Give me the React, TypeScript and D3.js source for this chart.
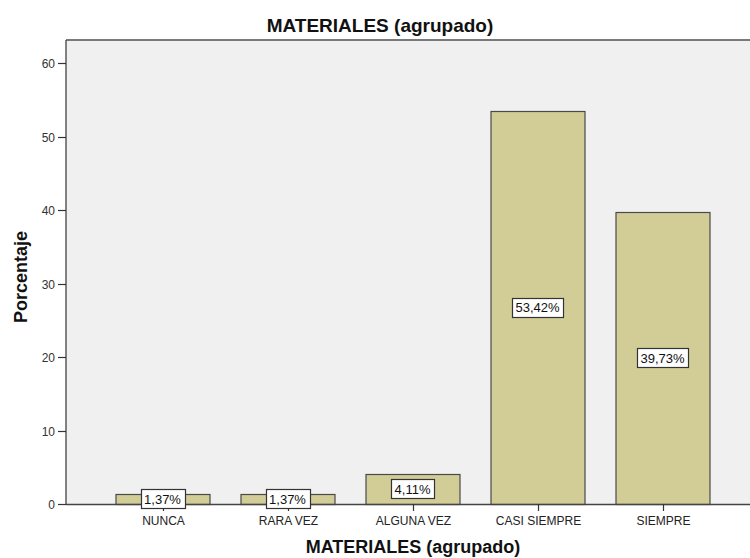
import React, { useEffect, useRef } from "react";
import * as d3 from "d3";

const categories = ["NUNCA", "RARA VEZ", "ALGUNA VEZ", "CASI SIEMPRE", "SIEMPRE"];
const values = [1.37, 1.37, 4.11, 53.42, 39.73];
const valueLabels = ["1,37%", "1,37%", "4,11%", "53,42%", "39,73%"];
const yTicks = [0, 10, 20, 30, 40, 50, 60];
const title = "MATERIALES (agrupado)";
const xTitle = "MATERIALES (agrupado)";
const yTitle = "Porcentaje";

const W = 750;
const H = 558;
const FONT = "'Liberation Sans', Arial, Helvetica, sans-serif";

export default function App() {
  const ref = useRef<SVGSVGElement | null>(null);

  useEffect(() => {
    const svg = d3.select(ref.current);
    svg.selectAll("*").remove();

    const plotLeft = 66;
    const plotTop = 40;
    const plotBottom = 504;
    const plotRight = 760;

    const y = d3.scaleLinear().domain([0, 63.13]).range([plotBottom, plotTop]);
    const x = d3
      .scaleBand<string>()
      .domain(categories)
      .range([100, 725])
      .paddingInner(0.248)
      .paddingOuter(0.124);

    svg.append("rect").attr("width", W).attr("height", H).attr("fill", "#ffffff");

    // plot background
    svg
      .append("rect")
      .attr("x", plotLeft)
      .attr("y", plotTop)
      .attr("width", plotRight - plotLeft)
      .attr("height", plotBottom - plotTop)
      .attr("fill", "#f0f0f0");
    svg
      .append("line")
      .attr("x1", plotLeft)
      .attr("x2", plotRight)
      .attr("y1", plotTop)
      .attr("y2", plotTop)
      .attr("stroke", "#7a7a7a")
      .attr("stroke-width", 2);

    // bars
    svg
      .append("g")
      .selectAll("rect")
      .data(values)
      .join("rect")
      .attr("x", (_, i) => x(categories[i])! + 0.5)
      .attr("y", (d) => Math.round(y(d)) + 0.5)
      .attr("width", x.bandwidth())
      .attr("height", (d) => plotBottom - Math.round(y(d)))
      .attr("fill", "#d2cd96")
      .attr("stroke", "#4a4a4a")
      .attr("stroke-width", 1.2);

    // axes
    svg
      .append("line")
      .attr("x1", plotLeft)
      .attr("x2", plotLeft)
      .attr("y1", plotTop)
      .attr("y2", plotBottom)
      .attr("stroke", "#333")
      .attr("stroke-width", 1.2);
    svg
      .append("line")
      .attr("x1", plotLeft)
      .attr("x2", plotRight)
      .attr("y1", plotBottom + 0.5)
      .attr("y2", plotBottom + 0.5)
      .attr("stroke", "#444")
      .attr("stroke-width", 1.5);

    // y ticks
    const yg = svg.append("g");
    yTicks.forEach((t) => {
      const yy = Math.round(y(t)) + 0.5;
      yg.append("line")
        .attr("x1", plotLeft - 8)
        .attr("x2", plotLeft)
        .attr("y1", yy)
        .attr("y2", yy)
        .attr("stroke", "#333")
        .attr("stroke-width", 1.2);
      yg.append("text")
        .attr("x", plotLeft - 11)
        .attr("y", yy)
        .attr("dy", "0.36em")
        .attr("text-anchor", "end")
        .attr("font-family", FONT)
        .attr("font-size", 12)
        .attr("fill", "#333")
        .text(String(t));
    });

    // x ticks and labels
    const xg = svg.append("g");
    categories.forEach((c) => {
      const cx = Math.round(x(c)! + x.bandwidth() / 2) + 0.5;
      xg.append("line")
        .attr("x1", cx)
        .attr("x2", cx)
        .attr("y1", plotBottom)
        .attr("y2", plotBottom + 7)
        .attr("stroke", "#333")
        .attr("stroke-width", 1.2);
      xg.append("text")
        .attr("x", cx)
        .attr("y", 525)
        .attr("text-anchor", "middle")
        .attr("font-family", FONT)
        .attr("font-size", 12)
        .attr("fill", "#222")
        .text(c);
    });

    // value labels
    const lg = svg.append("g");
    values.forEach((v, i) => {
      const cx = x(categories[i])! + x.bandwidth() / 2;
      const cy = y(v / 2);
      const g = lg.append("g");
      const rect = g.append("rect");
      const txt = g
        .append("text")
        .attr("x", cx)
        .attr("y", cy)
        .attr("dy", "0.36em")
        .attr("text-anchor", "middle")
        .attr("font-family", FONT)
        .attr("font-size", 13)
        .attr("fill", "#111")
        .text(valueLabels[i]);
      const tw = (txt.node() as SVGTextElement).getComputedTextLength();
      const bw = Math.round(tw + 7);
      const bh = 19;
      rect
        .attr("x", Math.round(cx - bw / 2) + 0.5)
        .attr("y", Math.round(cy - bh / 2) + 0.5)
        .attr("width", bw)
        .attr("height", bh)
        .attr("fill", "#ffffff")
        .attr("stroke", "#333")
        .attr("stroke-width", 1.2);
    });

    // titles
    svg
      .append("text")
      .attr("x", 380)
      .attr("y", 32)
      .attr("text-anchor", "middle")
      .attr("font-family", FONT)
      .attr("font-weight", "bold")
      .attr("font-size", 19)
      .attr("fill", "#111")
      .text(title);
    svg
      .append("text")
      .attr("x", 413)
      .attr("y", 553)
      .attr("text-anchor", "middle")
      .attr("font-family", FONT)
      .attr("font-weight", "bold")
      .attr("font-size", 18)
      .attr("fill", "#111")
      .text(xTitle);
    svg
      .append("text")
      .attr("transform", `translate(27,277) rotate(-90)`)
      .attr("text-anchor", "middle")
      .attr("font-family", FONT)
      .attr("font-weight", "bold")
      .attr("font-size", 18)
      .attr("fill", "#111")
      .text(yTitle);
  }, []);

  return (
    <svg
      ref={ref}
      width={W}
      height={H}
      style={{ position: "absolute", left: 0, top: 0, display: "block" }}
    />
  );
}
